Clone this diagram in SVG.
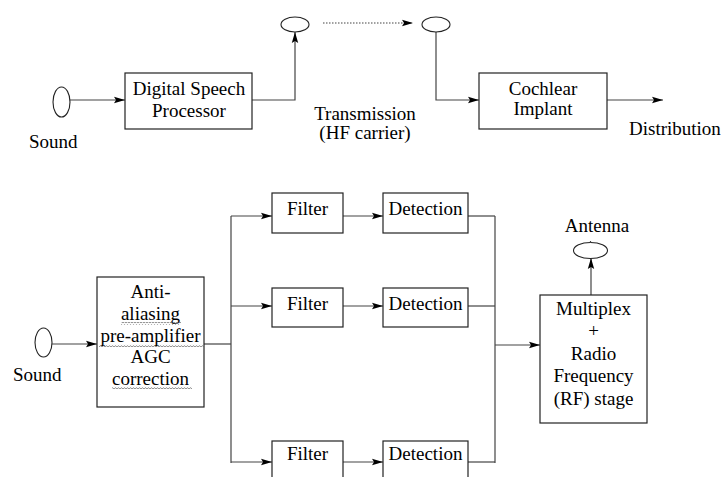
<svg xmlns="http://www.w3.org/2000/svg" width="725" height="477" viewBox="0 0 725 477">
  <style>
    text { font-family: 'Liberation Serif', 'DejaVu Serif', serif; font-size: 19px; fill: #000; }
    .c { text-anchor: middle; }
    .box { fill: #fff; stroke: #222; stroke-width: 1.2; }
    .ell { fill: #fff; stroke: #222; stroke-width: 1.1; }
    .ln { fill: none; stroke: #444; stroke-width: 1.2; }
    .arr { marker-end: url(#ah); }
    .dot { stroke-dasharray: 1.5 1.5; }
  </style>
  <defs>
    <marker id="ah" markerUnits="userSpaceOnUse" markerWidth="12" markerHeight="8" refX="11" refY="4" orient="auto">
      <path d="M0,0.8 L11,4 L0,7.2 L2,4 z" fill="#000"/>
    </marker>
    <pattern id="wavy" patternUnits="userSpaceOnUse" width="3" height="3">
      <path d="M0,2.2 L1.5,0.6 L3,2.2" fill="none" stroke="#666" stroke-width="0.8"/>
    </pattern>
  </defs>

  <!-- connectors -->
  <g id="connectors">
    <!-- upper chain -->
    <line class="ln arr" x1="70" y1="100" x2="125" y2="100"/>
    <polyline class="ln arr" points="252,100 295,100 295,32"/>
    <line class="ln arr dot" x1="323" y1="23" x2="413" y2="23"/>
    <polyline class="ln arr" points="436,32 436,100 479,100"/>
    <line class="ln arr" x1="607" y1="100" x2="663" y2="100"/>

    <!-- lower chain -->
    <line class="ln arr" x1="52" y1="344" x2="97" y2="344"/>
    <line class="ln" x1="204" y1="344" x2="231" y2="344"/>
    <line class="ln" x1="231" y1="216" x2="231" y2="463"/>
    <line class="ln arr" x1="231" y1="216" x2="272" y2="216"/>
    <line class="ln arr" x1="231" y1="306" x2="272" y2="306"/>
    <line class="ln arr" x1="231" y1="462" x2="272" y2="462"/>
    <line class="ln arr" x1="343" y1="216" x2="383" y2="216"/>
    <line class="ln arr" x1="343" y1="306" x2="383" y2="306"/>
    <line class="ln arr" x1="343" y1="462" x2="383" y2="462"/>
    <line class="ln" x1="468" y1="216" x2="495" y2="216"/>
    <line class="ln" x1="468" y1="306" x2="495" y2="306"/>
    <line class="ln" x1="468" y1="462" x2="495" y2="462"/>
    <line class="ln" x1="495" y1="216" x2="495" y2="463"/>
    <line class="ln arr" x1="495" y1="345" x2="540" y2="345"/>
    <line class="ln arr" x1="591" y1="295" x2="591" y2="258"/>
  </g>

  <!-- upper system -->
  <g id="sound-top">
    <ellipse class="ell" cx="61.5" cy="102" rx="8.5" ry="15"/>
    <text x="29" y="148" font-family="Liberation Serif">Sound</text>
  </g>
  <g id="speech-processor" font-family="Liberation Serif">
    <rect class="box" x="125" y="73" width="127" height="56"/>
    <text class="c" x="189" y="95">Digital Speech</text>
    <text class="c" x="189" y="117">Processor</text>
  </g>
  <g id="tx-antenna">
    <ellipse class="ell" cx="295" cy="24.5" rx="14" ry="7.5"/>
  </g>
  <g id="rx-antenna">
    <ellipse class="ell" cx="436" cy="24.5" rx="14" ry="7.5"/>
  </g>
  <g id="transmission">
    <text class="c" x="365" y="120">Transmission</text>
    <text class="c" x="365" y="139">(HF carrier)</text>
  </g>
  <g id="cochlear-implant">
    <rect class="box" x="479" y="73" width="128" height="56"/>
    <text class="c" x="543" y="95">Cochlear</text>
    <text class="c" x="543" y="115">Implant</text>
  </g>
  <g id="distribution">
    <text x="629" y="135">Distribution</text>
  </g>

  <!-- lower system -->
  <g id="sound-bottom">
    <ellipse class="ell" cx="43.5" cy="342.5" rx="8.5" ry="14.5"/>
    <text x="13" y="381">Sound</text>
  </g>
  <g id="preamp">
    <rect class="box" x="97" y="277" width="107" height="130"/>
    <text class="c" x="150.5" y="298">Anti-</text>
    <text class="c" x="150.5" y="320">aliasing</text>
    <text class="c" x="150.5" y="342">pre-amplifier</text>
    <text class="c" x="150.5" y="363">AGC</text>
    <text class="c" x="150.5" y="385">correction</text>
    <rect x="121" y="322" width="60" height="3" fill="url(#wavy)"/>
    <rect x="99" y="344" width="105" height="3" fill="url(#wavy)"/>
    <rect x="112" y="386" width="80" height="3" fill="url(#wavy)"/>
  </g>
  <g id="filter-1">
    <rect class="box" x="272" y="193" width="71" height="40"/>
    <text class="c" x="307.5" y="215">Filter</text>
  </g>
  <g id="filter-2">
    <rect class="box" x="272" y="288" width="71" height="39"/>
    <text class="c" x="307.5" y="310">Filter</text>
  </g>
  <g id="filter-3">
    <rect class="box" x="272" y="441" width="71" height="40"/>
    <text class="c" x="307.5" y="460">Filter</text>
  </g>
  <g id="detection-1">
    <rect class="box" x="383" y="193" width="85" height="40"/>
    <text class="c" x="425.5" y="215">Detection</text>
  </g>
  <g id="detection-2">
    <rect class="box" x="383" y="288" width="85" height="39"/>
    <text class="c" x="425.5" y="310">Detection</text>
  </g>
  <g id="detection-3">
    <rect class="box" x="383" y="441" width="85" height="40"/>
    <text class="c" x="425.5" y="460">Detection</text>
  </g>
  <g id="rf-stage">
    <rect class="box" x="540" y="295" width="107" height="128"/>
    <text class="c" x="593.5" y="315">Multiplex</text>
    <text class="c" x="593.5" y="337">+</text>
    <text class="c" x="593.5" y="360">Radio</text>
    <text class="c" x="593.5" y="382">Frequency</text>
    <text class="c" x="593.5" y="405">(RF) stage</text>
  </g>
  <g id="antenna">
    <ellipse class="ell" cx="590.5" cy="250.5" rx="17" ry="8"/>
    <line class="ln" x1="590.5" y1="241" x2="590.5" y2="243"/>
    <text class="c" x="597" y="232">Antenna</text>
  </g>
</svg>
